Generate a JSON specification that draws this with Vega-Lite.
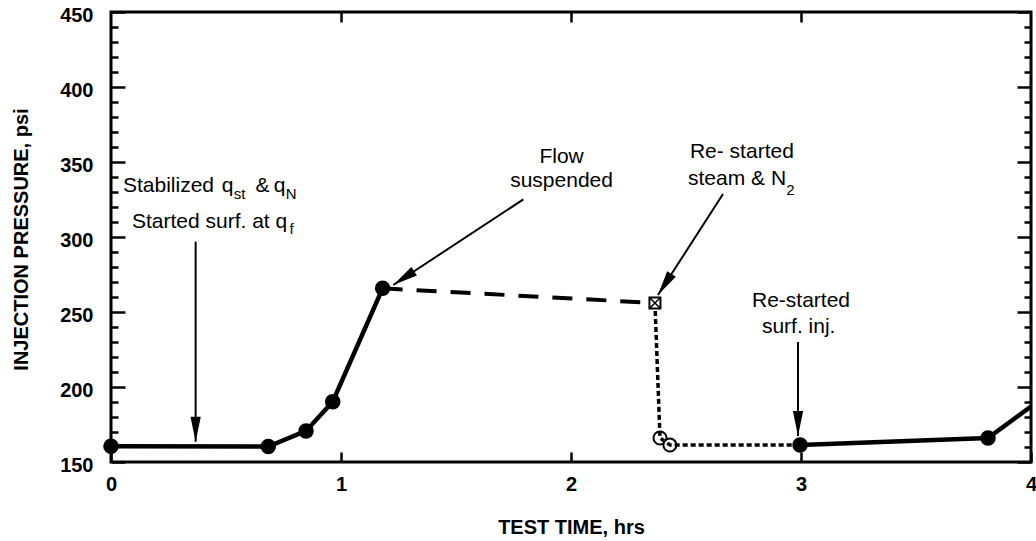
{
  "$schema": "https://vega.github.io/schema/vega-lite/v6.json",
  "width": 920,
  "height": 450,
  "autosize": {"type": "none"},
  "padding": {"left": 111, "top": 12, "right": 5, "bottom": 79},
  "background": "white",
  "config": {
    "view": {"stroke": "black", "strokeWidth": 3},
    "font": "Liberation Sans"
  },
  "datasets": {
    "curve": [
      {"t": 0, "p": 160.5, "seg": "A"},
      {"t": 0.684, "p": 160.3, "seg": "A"},
      {"t": 0.848, "p": 170.7, "seg": "A"},
      {"t": 0.964, "p": 190.2, "seg": "A"},
      {"t": 1.181, "p": 265.8, "seg": "A"},
      {"t": 1.181, "p": 265.8, "seg": "B"},
      {"t": 2.365, "p": 256, "seg": "B"},
      {"t": 2.365, "p": 256, "seg": "C"},
      {"t": 2.387, "p": 166, "seg": "C"},
      {"t": 2.43, "p": 161.3, "seg": "C"},
      {"t": 2.996, "p": 161.3, "seg": "C"},
      {"t": 2.996, "p": 161.3, "seg": "D"},
      {"t": 3.813, "p": 166, "seg": "D"},
      {"t": 4.0, "p": 187, "seg": "D"}
    ],
    "pts": [
      {"t": 0, "p": 160.5, "kind": "filled"},
      {"t": 0.684, "p": 160.3, "kind": "filled"},
      {"t": 0.848, "p": 170.7, "kind": "filled"},
      {"t": 0.964, "p": 190.2, "kind": "filled"},
      {"t": 1.181, "p": 265.8, "kind": "filled"},
      {"t": 2.996, "p": 161.3, "kind": "filled"},
      {"t": 3.813, "p": 166, "kind": "filled"},
      {"t": 2.387, "p": 166, "kind": "open"},
      {"t": 2.43, "p": 161.3, "kind": "open"},
      {"t": 2.365, "p": 256, "kind": "square"}
    ],
    "arrows": [
      {"t": 0.368, "p": 296.9, "t2": 0.368, "p2": 163.5},
      {"t": 1.793, "p": 325.1, "t2": 1.227, "p2": 268},
      {"t": 2.661, "p": 328.7, "t2": 2.378, "p2": 261.3},
      {"t": 2.987, "p": 230, "t2": 2.987, "p2": 167.3}
    ],
    "heads": [
      {"t": 0.368, "p": 163.5, "dir": 180},
      {"t": 1.227, "p": 268, "dir": 236.5},
      {"t": 2.378, "p": 261.3, "dir": 212.8},
      {"t": 2.987, "p": 167.3, "dir": 180}
    ],
    "notes": [
      {"t": 0.052, "p": 330.2, "text": "Stabilized", "kind": "left"},
      {"t": 0.482, "p": 330.2, "text": "q", "kind": "left"},
      {"t": 0.628, "p": 330.2, "text": "&", "kind": "left"},
      {"t": 0.708, "p": 330.2, "text": "q", "kind": "left"},
      {"t": 0.091, "p": 306, "text": "Started surf. at q", "kind": "left"},
      {"t": 0.534, "p": 325.3, "text": "st", "kind": "sub"},
      {"t": 0.760, "p": 325.3, "text": "N", "kind": "sub"},
      {"t": 0.776, "p": 302, "text": "f", "kind": "sub"},
      {"t": 2.936, "p": 328, "text": "2", "kind": "sub"},
      {"t": 1.959, "p": 349.3, "text": "Flow", "kind": "center"},
      {"t": 1.959, "p": 333.5, "text": "suspended", "kind": "center"},
      {"t": 2.743, "p": 352.7, "text": "Re- started", "kind": "center"},
      {"t": 2.935, "p": 334.7, "text": "steam & N", "kind": "right"},
      {"t": 3.0, "p": 253.5, "text": "Re-started", "kind": "center"},
      {"t": 2.99, "p": 236, "text": "surf. inj.", "kind": "center"}
    ]
  },
  "layer": [
    {
      "encoding": {
        "x": {
          "field": "t", "type": "quantitative",
          "scale": {"domain": [0, 4], "nice": false, "zero": false},
          "axis": {
            "orient": "bottom", "title": "TEST TIME, hrs", "values": [0, 1, 2, 3, 4], "format": "d",
            "domain": false, "grid": false, "tickSize": -10, "tickWidth": 2.5, "tickColor": "black",
            "labelFont": "Liberation Sans", "labelFontWeight": "bold", "labelFontSize": 20, "labelColor": "black",
            "labelPadding": 22, "labelFlush": false, "labelOverlap": false,
            "titleFont": "Liberation Sans", "titleFontSize": 20, "titleFontWeight": "bold", "titleColor": "black",
            "titleY": 71, "titleBaseline": "alphabetic"
          }
        },
        "y": {
          "field": "p", "type": "quantitative",
          "scale": {"domain": [150, 450], "nice": false, "zero": false},
          "axis": {
            "orient": "left", "title": "INJECTION PRESSURE, psi",
            "values": [150, 160, 170, 180, 190, 200, 210, 220, 230, 240, 250, 260, 270, 280, 290, 300, 310, 320, 330, 340, 350, 360, 370, 380, 390, 400, 410, 420, 430, 440, 450],
            "domain": false, "grid": false,
            "tickSize": {"condition": {"test": "datum.value % 50 === 0", "value": -14}, "value": -7},
            "tickWidth": 2.5, "tickColor": "black",
            "labelExpr": "datum.value % 50 === 0 ? datum.label : ''",
            "labelFont": "Liberation Sans", "labelFontWeight": "bold", "labelFontSize": 20, "labelColor": "black",
            "labelPadding": 32, "labelFlush": false, "labelOverlap": false, "labelOffset": 3,
            "titleFont": "Liberation Sans", "titleFontSize": 20, "titleFontWeight": "bold", "titleColor": "black",
            "titleX": -90, "titleY": 227, "titleAngle": 270, "titleAlign": "center", "titleBaseline": "middle"
          }
        }
      },
      "layer": [
        {
          "data": {"name": "pts"},
          "transform": [{"filter": "datum.kind === 'open'"}],
          "mark": {"type": "point", "shape": "circle", "size": 170, "filled": false, "fill": "white", "fillOpacity": 1, "stroke": "black", "strokeWidth": 2, "opacity": 1}
        },
        {
          "data": {"name": "curve"},
          "transform": [{"filter": "datum.seg === 'A' || datum.seg === 'D'"}],
          "mark": {"type": "line", "color": "black", "strokeWidth": 4.5, "clip": true},
          "encoding": {"detail": {"field": "seg"}}
        },
        {
          "data": {"name": "curve"},
          "transform": [{"filter": "datum.seg === 'B'"}],
          "mark": {"type": "line", "color": "black", "strokeWidth": 4, "strokeDash": [20, 14]},
          "encoding": {"detail": {"field": "seg"}}
        },
        {
          "data": {"name": "curve"},
          "transform": [{"filter": "datum.seg === 'C'"}],
          "mark": {"type": "line", "color": "black", "strokeWidth": 3.5, "strokeDash": [5, 3]},
          "encoding": {"detail": {"field": "seg"}}
        },
        {
          "data": {"name": "pts"},
          "transform": [{"filter": "datum.kind === 'filled'"}],
          "mark": {"type": "point", "shape": "circle", "size": 240, "filled": true, "color": "black", "opacity": 1}
        },
        {
          "data": {"name": "pts"},
          "transform": [{"filter": "datum.kind === 'square'"}],
          "mark": {"type": "point", "shape": "square", "size": 121, "filled": false, "fill": "white", "fillOpacity": 1, "stroke": "black", "strokeWidth": 2, "opacity": 1}
        },
        {
          "data": {"name": "pts"},
          "transform": [{"filter": "datum.kind === 'square'"}],
          "mark": {"type": "point", "shape": "M-1,-1L1,1M1,-1L-1,1", "size": 100, "filled": false, "stroke": "black", "strokeWidth": 1.5, "opacity": 1}
        },
        {
          "data": {"name": "arrows"},
          "mark": {"type": "rule", "color": "black", "strokeWidth": 2},
          "encoding": {"x2": {"field": "t2"}, "y2": {"field": "p2"}}
        },
        {
          "data": {"name": "heads"},
          "mark": {"type": "point", "shape": "M0,0L0.45,2.2L-0.45,2.2Z", "size": 520, "filled": true, "color": "black", "opacity": 1},
          "encoding": {"angle": {"field": "dir", "type": "quantitative", "scale": null}}
        },
        {
          "data": {"name": "notes"},
          "transform": [{"filter": "datum.kind === 'left'"}],
          "mark": {"type": "text", "align": "left", "baseline": "alphabetic", "fontSize": 21, "font": "Liberation Sans", "color": "black"},
          "encoding": {"text": {"field": "text"}}
        },
        {
          "data": {"name": "notes"},
          "transform": [{"filter": "datum.kind === 'center'"}],
          "mark": {"type": "text", "align": "center", "baseline": "alphabetic", "fontSize": 21, "font": "Liberation Sans", "color": "black"},
          "encoding": {"text": {"field": "text"}}
        },
        {
          "data": {"name": "notes"},
          "transform": [{"filter": "datum.kind === 'right'"}],
          "mark": {"type": "text", "align": "right", "baseline": "alphabetic", "fontSize": 21, "font": "Liberation Sans", "color": "black"},
          "encoding": {"text": {"field": "text"}}
        },
        {
          "data": {"name": "notes"},
          "transform": [{"filter": "datum.kind === 'sub'"}],
          "mark": {"type": "text", "align": "left", "baseline": "alphabetic", "fontSize": 15, "font": "Liberation Sans", "color": "black"},
          "encoding": {"text": {"field": "text"}}
        }
      ]
    },
    {
      "data": {"name": "pts"},
      "mark": {"type": "point", "opacity": 0},
      "encoding": {
        "x": {
          "field": "t", "type": "quantitative",
          "scale": {"domain": [0, 4], "nice": false, "zero": false},
          "axis": {"orient": "top", "title": null, "values": [1, 2, 3], "domain": false, "grid": false, "labels": false, "tickSize": -10, "tickWidth": 2.5, "tickColor": "black"}
        },
        "y": {
          "field": "p", "type": "quantitative",
          "scale": {"domain": [150, 450], "nice": false, "zero": false},
          "axis": {
            "orient": "right", "title": null,
            "values": [150, 160, 170, 180, 190, 200, 210, 220, 230, 240, 250, 260, 270, 280, 290, 300, 310, 320, 330, 340, 350, 360, 370, 380, 390, 400, 410, 420, 430, 440, 450],
            "domain": false, "grid": false, "labels": false,
            "tickSize": {"condition": {"test": "datum.value % 50 === 0", "value": -14}, "value": -7},
            "tickWidth": 2.5, "tickColor": "black"
          }
        }
      }
    }
  ],
  "resolve": {"scale": {"x": "independent", "y": "independent"}}
}
